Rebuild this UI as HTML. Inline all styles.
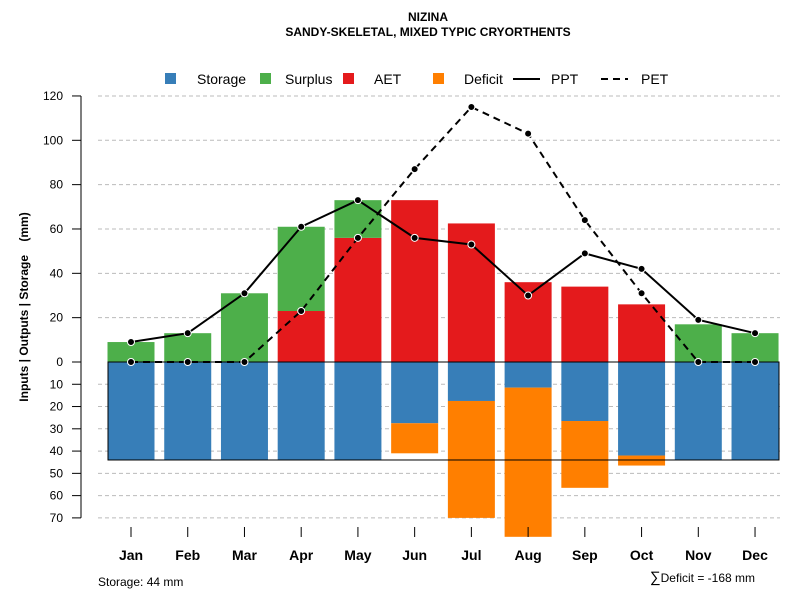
<!DOCTYPE html>
<html><head><meta charset="utf-8"><style>
body{margin:0;background:#fff}
svg{display:block;font-family:"Liberation Sans",sans-serif}
</style></head><body>
<svg id="c" width="800" height="600" viewBox="0 0 800 600">
<text x="428" y="21" text-anchor="middle" font-size="12" font-weight="bold">NIZINA</text>
<text x="428" y="36" text-anchor="middle" font-size="12" font-weight="bold">SANDY-SKELETAL, MIXED TYPIC CRYORTHENTS</text>
<g id="grid"></g><g id="bars"></g><g id="axes"></g><g id="lines"></g>
<g font-size="14">
<rect x="165" y="73" width="11" height="11" fill="#377eb8"/>
<text x="197" y="84">Storage</text>
<rect x="260" y="73" width="11" height="11" fill="#4daf4a"/>
<text x="285" y="84">Surplus</text>
<rect x="343" y="73" width="11" height="11" fill="#e41a1c"/>
<text x="374" y="84">AET</text>
<rect x="433" y="73" width="11" height="11" fill="#ff7f00"/>
<text x="464" y="84">Deficit</text>
<line x1="513" y1="79" x2="540" y2="79" stroke="#000" stroke-width="2"/>
<text x="551" y="84">PPT</text>
<line x1="601" y1="79" x2="628" y2="79" stroke="#000" stroke-width="2" stroke-dasharray="7,5"/>
<text x="641" y="84">PET</text>
</g>
<text transform="translate(28,307) rotate(-90)" text-anchor="middle" font-size="12" font-weight="bold">Inputs | Outputs | Storage&#160;&#160;&#160;&#160;(mm)</text>
<text x="98" y="586" font-size="12">Storage: 44 mm</text>
<text x="755" y="582" text-anchor="end" font-size="12"><tspan font-size="15">∑</tspan>Deficit = -168 mm</text>
</svg>
<script>
const months=["Jan","Feb","Mar","Apr","May","Jun","Jul","Aug","Sep","Oct","Nov","Dec"];
const storage=[44,44,44,44,44,27.5,17.5,11.5,26.5,42,44,44];
const deficit=[0,0,0,0,0,13.5,52.5,67,30,4.5,0,0];
const aet=[0,0,0,23,56,73,62.5,36,34,26,0,0];
const surplus=[9,13,31,38,17,0,0,0,0,0,17,13];
const ppt=[9,13,31,61,73,56,53,30,49,42,19,13];
const pet=[0,0,0,23,56,87,115,103,64,31,0,0];
const posTicks=[0,20,40,60,80,100,120];
const negTicks=[10,20,30,40,50,60,70];
const NS="http://www.w3.org/2000/svg";
const y0=362,ppu=2.217,npu=2.227;
function yP(v){return y0-v*ppu;}
function yN(v){return y0+v*npu;}
function xM(i){return 131+i*56.73;}
function mk(t,a,p){const e=document.createElementNS(NS,t);for(const k in a)e.setAttribute(k,a[k]);document.getElementById(p).appendChild(e);return e;}
const bw=47;
posTicks.forEach(v=>{if(v>0){const g=mk('line',{x1:98,x2:780,y1:yP(v),y2:yP(v),stroke:'#bbb','stroke-dasharray':'4,3'},'grid');

}});
negTicks.forEach(v=>{const g=mk('line',{x1:98,x2:780,y1:yN(v),y2:yN(v),stroke:'#bbb','stroke-dasharray':'4,3'},'grid');

});
months.forEach((m,i)=>{
 const x=xM(i)-bw/2;
 let r=mk('rect',{x:x,y:y0,width:bw,height:storage[i]*npu,fill:'#377eb8'},'bars');
 
 
 if(deficit[i]>0){r=mk('rect',{x:x,y:yN(storage[i]),width:bw,height:deficit[i]*npu,fill:'#ff7f00'},'bars');
 
 }
 if(aet[i]>0){r=mk('rect',{x:x,y:yP(aet[i]),width:bw,height:aet[i]*ppu,fill:'#e41a1c'},'bars');
 
 }
 if(surplus[i]>0){r=mk('rect',{x:x,y:yP(aet[i]+surplus[i]),width:bw,height:surplus[i]*ppu,fill:'#4daf4a'},'bars');
 
 }
 const t=mk('line',{x1:xM(i),x2:xM(i),y1:527,y2:537,stroke:'#000'},'axes');
 
 
 const l=mk('text',{x:xM(i),y:560,'text-anchor':'middle','font-size':14,'font-weight':'bold'},'axes');l.textContent=m;
 
 
});
const sb=mk('rect',{x:108,y:y0,width:671,height:44*npu,fill:'none',stroke:'#000'},'bars');


const ax=mk('line',{x1:81,x2:81,y1:yP(120),y2:yN(70),stroke:'#555','stroke-width':1.5},'axes');


function ytick(y,v){const t=mk('line',{x1:72,x2:81,y1:y,y2:y,stroke:'#000'},'axes');


const l=mk('text',{x:63,y:y+4,'text-anchor':'end','font-size':12},'axes');l.textContent=v;

}
posTicks.forEach(v=>ytick(yP(v),v));
negTicks.forEach(v=>ytick(yN(v),v));
function series(arr,dash,name){
 const pts=arr.map((v,i)=>xM(i)+','+yP(v)).join(' ');
 const p=mk('polyline',{points:pts,fill:'none',stroke:'#000','stroke-width':2,'stroke-dasharray':dash},'lines');
 
 
 arr.forEach((v,i)=>{const c=mk('circle',{cx:xM(i),cy:yP(v),r:3.5,fill:'#000',stroke:'#fff','stroke-width':1},'lines');
 
 });
}
series(pet,'7,5','pet');
series(ppt,'none','ppt');
</script>
</body></html>
